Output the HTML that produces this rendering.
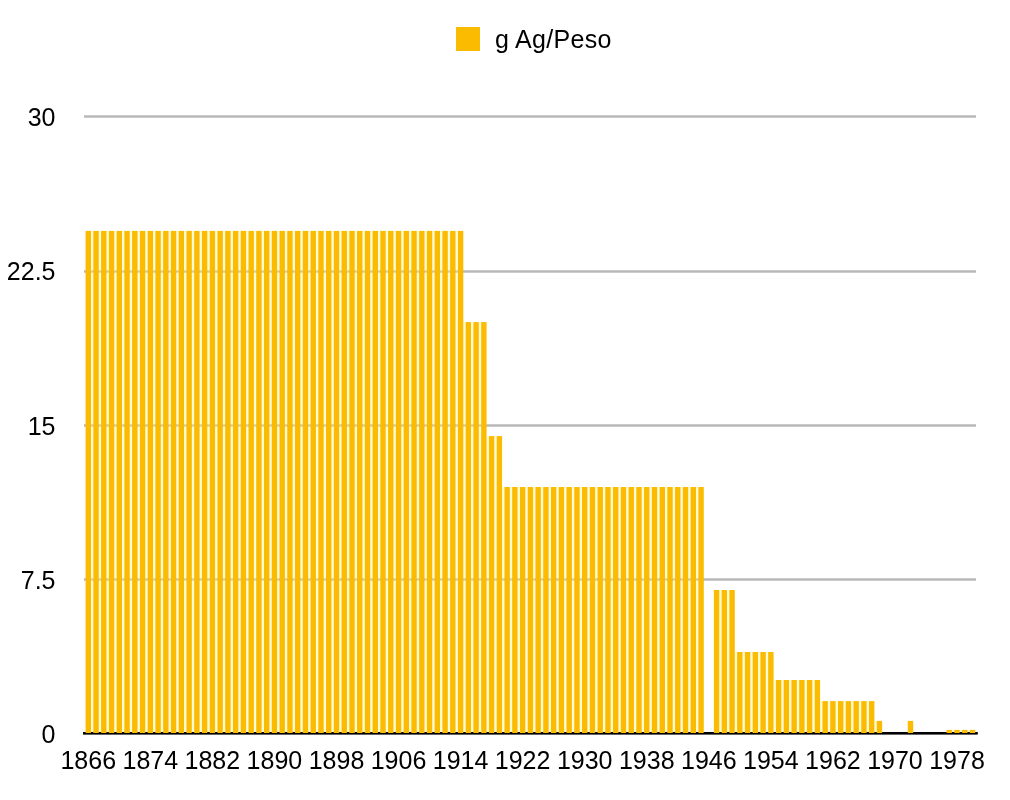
<!DOCTYPE html><html><head><meta charset="utf-8"><style>html,body{margin:0;padding:0;background:#fff;width:1010px;height:800px;overflow:hidden}svg{display:block;will-change:transform}text{font-family:"Liberation Sans",sans-serif;fill:#000}</style></head><body>
<svg width="1010" height="800" viewBox="0 0 1010 800">
<rect x="84.00" y="115.30" width="892.00" height="2.40" fill="#B6B6B6"/>
<rect x="84.00" y="270.30" width="892.00" height="2.40" fill="#B6B6B6"/>
<rect x="84.00" y="424.30" width="892.00" height="2.40" fill="#B6B6B6"/>
<rect x="84.00" y="578.30" width="892.00" height="2.40" fill="#B6B6B6"/>
<rect x="90.98" y="230.90" width="2.35" height="502.60" fill="rgba(255,248,150,0.4)"/>
<rect x="98.74" y="230.90" width="2.35" height="502.60" fill="rgba(255,248,150,0.4)"/>
<rect x="106.49" y="230.90" width="2.35" height="502.60" fill="rgba(255,248,150,0.4)"/>
<rect x="114.25" y="230.90" width="2.35" height="502.60" fill="rgba(255,248,150,0.4)"/>
<rect x="122.01" y="230.90" width="2.35" height="502.60" fill="rgba(255,248,150,0.4)"/>
<rect x="129.76" y="230.90" width="2.35" height="502.60" fill="rgba(255,248,150,0.4)"/>
<rect x="137.52" y="230.90" width="2.35" height="502.60" fill="rgba(255,248,150,0.4)"/>
<rect x="145.28" y="230.90" width="2.35" height="502.60" fill="rgba(255,248,150,0.4)"/>
<rect x="153.03" y="230.90" width="2.35" height="502.60" fill="rgba(255,248,150,0.4)"/>
<rect x="160.79" y="230.90" width="2.35" height="502.60" fill="rgba(255,248,150,0.4)"/>
<rect x="168.55" y="230.90" width="2.35" height="502.60" fill="rgba(255,248,150,0.4)"/>
<rect x="176.30" y="230.90" width="2.35" height="502.60" fill="rgba(255,248,150,0.4)"/>
<rect x="184.06" y="230.90" width="2.35" height="502.60" fill="rgba(255,248,150,0.4)"/>
<rect x="191.82" y="230.90" width="2.35" height="502.60" fill="rgba(255,248,150,0.4)"/>
<rect x="199.57" y="230.90" width="2.35" height="502.60" fill="rgba(255,248,150,0.4)"/>
<rect x="207.33" y="230.90" width="2.35" height="502.60" fill="rgba(255,248,150,0.4)"/>
<rect x="215.09" y="230.90" width="2.35" height="502.60" fill="rgba(255,248,150,0.4)"/>
<rect x="222.84" y="230.90" width="2.35" height="502.60" fill="rgba(255,248,150,0.4)"/>
<rect x="230.60" y="230.90" width="2.35" height="502.60" fill="rgba(255,248,150,0.4)"/>
<rect x="238.36" y="230.90" width="2.35" height="502.60" fill="rgba(255,248,150,0.4)"/>
<rect x="246.11" y="230.90" width="2.35" height="502.60" fill="rgba(255,248,150,0.4)"/>
<rect x="253.87" y="230.90" width="2.35" height="502.60" fill="rgba(255,248,150,0.4)"/>
<rect x="261.62" y="230.90" width="2.35" height="502.60" fill="rgba(255,248,150,0.4)"/>
<rect x="269.38" y="230.90" width="2.35" height="502.60" fill="rgba(255,248,150,0.4)"/>
<rect x="277.14" y="230.90" width="2.35" height="502.60" fill="rgba(255,248,150,0.4)"/>
<rect x="284.89" y="230.90" width="2.35" height="502.60" fill="rgba(255,248,150,0.4)"/>
<rect x="292.65" y="230.90" width="2.35" height="502.60" fill="rgba(255,248,150,0.4)"/>
<rect x="300.41" y="230.90" width="2.35" height="502.60" fill="rgba(255,248,150,0.4)"/>
<rect x="308.16" y="230.90" width="2.35" height="502.60" fill="rgba(255,248,150,0.4)"/>
<rect x="315.92" y="230.90" width="2.35" height="502.60" fill="rgba(255,248,150,0.4)"/>
<rect x="323.68" y="230.90" width="2.35" height="502.60" fill="rgba(255,248,150,0.4)"/>
<rect x="331.43" y="230.90" width="2.35" height="502.60" fill="rgba(255,248,150,0.4)"/>
<rect x="339.19" y="230.90" width="2.35" height="502.60" fill="rgba(255,248,150,0.4)"/>
<rect x="346.95" y="230.90" width="2.35" height="502.60" fill="rgba(255,248,150,0.4)"/>
<rect x="354.70" y="230.90" width="2.35" height="502.60" fill="rgba(255,248,150,0.4)"/>
<rect x="362.46" y="230.90" width="2.35" height="502.60" fill="rgba(255,248,150,0.4)"/>
<rect x="370.22" y="230.90" width="2.35" height="502.60" fill="rgba(255,248,150,0.4)"/>
<rect x="377.97" y="230.90" width="2.35" height="502.60" fill="rgba(255,248,150,0.4)"/>
<rect x="385.73" y="230.90" width="2.35" height="502.60" fill="rgba(255,248,150,0.4)"/>
<rect x="393.49" y="230.90" width="2.35" height="502.60" fill="rgba(255,248,150,0.4)"/>
<rect x="401.24" y="230.90" width="2.35" height="502.60" fill="rgba(255,248,150,0.4)"/>
<rect x="409.00" y="230.90" width="2.35" height="502.60" fill="rgba(255,248,150,0.4)"/>
<rect x="416.76" y="230.90" width="2.35" height="502.60" fill="rgba(255,248,150,0.4)"/>
<rect x="424.51" y="230.90" width="2.35" height="502.60" fill="rgba(255,248,150,0.4)"/>
<rect x="432.27" y="230.90" width="2.35" height="502.60" fill="rgba(255,248,150,0.4)"/>
<rect x="440.02" y="230.90" width="2.35" height="502.60" fill="rgba(255,248,150,0.4)"/>
<rect x="447.78" y="230.90" width="2.35" height="502.60" fill="rgba(255,248,150,0.4)"/>
<rect x="455.54" y="230.90" width="2.35" height="502.60" fill="rgba(255,248,150,0.4)"/>
<rect x="463.29" y="322.10" width="2.35" height="411.40" fill="rgba(255,248,150,0.4)"/>
<rect x="471.05" y="322.10" width="2.35" height="411.40" fill="rgba(255,248,150,0.4)"/>
<rect x="478.81" y="322.10" width="2.35" height="411.40" fill="rgba(255,248,150,0.4)"/>
<rect x="486.56" y="436.10" width="2.35" height="297.40" fill="rgba(255,248,150,0.4)"/>
<rect x="494.32" y="436.10" width="2.35" height="297.40" fill="rgba(255,248,150,0.4)"/>
<rect x="502.08" y="487.00" width="2.35" height="246.50" fill="rgba(255,248,150,0.4)"/>
<rect x="509.83" y="487.00" width="2.35" height="246.50" fill="rgba(255,248,150,0.4)"/>
<rect x="517.59" y="487.00" width="2.35" height="246.50" fill="rgba(255,248,150,0.4)"/>
<rect x="525.35" y="487.00" width="2.35" height="246.50" fill="rgba(255,248,150,0.4)"/>
<rect x="533.10" y="487.00" width="2.35" height="246.50" fill="rgba(255,248,150,0.4)"/>
<rect x="540.86" y="487.00" width="2.35" height="246.50" fill="rgba(255,248,150,0.4)"/>
<rect x="548.62" y="487.00" width="2.35" height="246.50" fill="rgba(255,248,150,0.4)"/>
<rect x="556.37" y="487.00" width="2.35" height="246.50" fill="rgba(255,248,150,0.4)"/>
<rect x="564.13" y="487.00" width="2.35" height="246.50" fill="rgba(255,248,150,0.4)"/>
<rect x="571.89" y="487.00" width="2.35" height="246.50" fill="rgba(255,248,150,0.4)"/>
<rect x="579.64" y="487.00" width="2.35" height="246.50" fill="rgba(255,248,150,0.4)"/>
<rect x="587.40" y="487.00" width="2.35" height="246.50" fill="rgba(255,248,150,0.4)"/>
<rect x="595.16" y="487.00" width="2.35" height="246.50" fill="rgba(255,248,150,0.4)"/>
<rect x="602.91" y="487.00" width="2.35" height="246.50" fill="rgba(255,248,150,0.4)"/>
<rect x="610.67" y="487.00" width="2.35" height="246.50" fill="rgba(255,248,150,0.4)"/>
<rect x="618.42" y="487.00" width="2.35" height="246.50" fill="rgba(255,248,150,0.4)"/>
<rect x="626.18" y="487.00" width="2.35" height="246.50" fill="rgba(255,248,150,0.4)"/>
<rect x="633.94" y="487.00" width="2.35" height="246.50" fill="rgba(255,248,150,0.4)"/>
<rect x="641.69" y="487.00" width="2.35" height="246.50" fill="rgba(255,248,150,0.4)"/>
<rect x="649.45" y="487.00" width="2.35" height="246.50" fill="rgba(255,248,150,0.4)"/>
<rect x="657.21" y="487.00" width="2.35" height="246.50" fill="rgba(255,248,150,0.4)"/>
<rect x="664.96" y="487.00" width="2.35" height="246.50" fill="rgba(255,248,150,0.4)"/>
<rect x="672.72" y="487.00" width="2.35" height="246.50" fill="rgba(255,248,150,0.4)"/>
<rect x="680.48" y="487.00" width="2.35" height="246.50" fill="rgba(255,248,150,0.4)"/>
<rect x="688.23" y="487.00" width="2.35" height="246.50" fill="rgba(255,248,150,0.4)"/>
<rect x="695.99" y="487.00" width="2.35" height="246.50" fill="rgba(255,248,150,0.4)"/>
<rect x="719.26" y="590.00" width="2.35" height="143.50" fill="rgba(255,248,150,0.4)"/>
<rect x="727.02" y="590.00" width="2.35" height="143.50" fill="rgba(255,248,150,0.4)"/>
<rect x="734.77" y="652.00" width="2.35" height="81.50" fill="rgba(255,248,150,0.4)"/>
<rect x="742.53" y="652.00" width="2.35" height="81.50" fill="rgba(255,248,150,0.4)"/>
<rect x="750.29" y="652.00" width="2.35" height="81.50" fill="rgba(255,248,150,0.4)"/>
<rect x="758.04" y="652.00" width="2.35" height="81.50" fill="rgba(255,248,150,0.4)"/>
<rect x="765.80" y="652.00" width="2.35" height="81.50" fill="rgba(255,248,150,0.4)"/>
<rect x="773.56" y="680.00" width="2.35" height="53.50" fill="rgba(255,248,150,0.4)"/>
<rect x="781.31" y="680.00" width="2.35" height="53.50" fill="rgba(255,248,150,0.4)"/>
<rect x="789.07" y="680.00" width="2.35" height="53.50" fill="rgba(255,248,150,0.4)"/>
<rect x="796.82" y="680.00" width="2.35" height="53.50" fill="rgba(255,248,150,0.4)"/>
<rect x="804.58" y="680.00" width="2.35" height="53.50" fill="rgba(255,248,150,0.4)"/>
<rect x="812.34" y="680.00" width="2.35" height="53.50" fill="rgba(255,248,150,0.4)"/>
<rect x="820.09" y="701.10" width="2.35" height="32.40" fill="rgba(255,248,150,0.4)"/>
<rect x="827.85" y="701.10" width="2.35" height="32.40" fill="rgba(255,248,150,0.4)"/>
<rect x="835.61" y="701.10" width="2.35" height="32.40" fill="rgba(255,248,150,0.4)"/>
<rect x="843.36" y="701.10" width="2.35" height="32.40" fill="rgba(255,248,150,0.4)"/>
<rect x="851.12" y="701.10" width="2.35" height="32.40" fill="rgba(255,248,150,0.4)"/>
<rect x="858.88" y="701.10" width="2.35" height="32.40" fill="rgba(255,248,150,0.4)"/>
<rect x="866.63" y="701.10" width="2.35" height="32.40" fill="rgba(255,248,150,0.4)"/>
<rect x="874.39" y="720.90" width="2.35" height="12.60" fill="rgba(255,248,150,0.4)"/>
<rect x="951.96" y="729.90" width="2.35" height="3.60" fill="rgba(255,248,150,0.4)"/>
<rect x="959.71" y="729.90" width="2.35" height="3.60" fill="rgba(255,248,150,0.4)"/>
<rect x="967.47" y="729.90" width="2.35" height="3.60" fill="rgba(255,248,150,0.4)"/>
<rect x="83.00" y="732.00" width="894.80" height="2.60" fill="#000"/>
<rect x="85.58" y="230.90" width="5.41" height="502.10" fill="#FABB00"/>
<rect x="93.33" y="230.90" width="5.41" height="502.10" fill="#FABB00"/>
<rect x="101.09" y="230.90" width="5.41" height="502.10" fill="#FABB00"/>
<rect x="108.84" y="230.90" width="5.41" height="502.10" fill="#FABB00"/>
<rect x="116.60" y="230.90" width="5.41" height="502.10" fill="#FABB00"/>
<rect x="124.36" y="230.90" width="5.41" height="502.10" fill="#FABB00"/>
<rect x="132.11" y="230.90" width="5.41" height="502.10" fill="#FABB00"/>
<rect x="139.87" y="230.90" width="5.41" height="502.10" fill="#FABB00"/>
<rect x="147.63" y="230.90" width="5.41" height="502.10" fill="#FABB00"/>
<rect x="155.38" y="230.90" width="5.41" height="502.10" fill="#FABB00"/>
<rect x="163.14" y="230.90" width="5.41" height="502.10" fill="#FABB00"/>
<rect x="170.90" y="230.90" width="5.41" height="502.10" fill="#FABB00"/>
<rect x="178.65" y="230.90" width="5.41" height="502.10" fill="#FABB00"/>
<rect x="186.41" y="230.90" width="5.41" height="502.10" fill="#FABB00"/>
<rect x="194.17" y="230.90" width="5.41" height="502.10" fill="#FABB00"/>
<rect x="201.92" y="230.90" width="5.41" height="502.10" fill="#FABB00"/>
<rect x="209.68" y="230.90" width="5.41" height="502.10" fill="#FABB00"/>
<rect x="217.44" y="230.90" width="5.41" height="502.10" fill="#FABB00"/>
<rect x="225.19" y="230.90" width="5.41" height="502.10" fill="#FABB00"/>
<rect x="232.95" y="230.90" width="5.41" height="502.10" fill="#FABB00"/>
<rect x="240.71" y="230.90" width="5.41" height="502.10" fill="#FABB00"/>
<rect x="248.46" y="230.90" width="5.41" height="502.10" fill="#FABB00"/>
<rect x="256.22" y="230.90" width="5.41" height="502.10" fill="#FABB00"/>
<rect x="263.97" y="230.90" width="5.41" height="502.10" fill="#FABB00"/>
<rect x="271.73" y="230.90" width="5.41" height="502.10" fill="#FABB00"/>
<rect x="279.49" y="230.90" width="5.41" height="502.10" fill="#FABB00"/>
<rect x="287.24" y="230.90" width="5.41" height="502.10" fill="#FABB00"/>
<rect x="295.00" y="230.90" width="5.41" height="502.10" fill="#FABB00"/>
<rect x="302.76" y="230.90" width="5.41" height="502.10" fill="#FABB00"/>
<rect x="310.51" y="230.90" width="5.41" height="502.10" fill="#FABB00"/>
<rect x="318.27" y="230.90" width="5.41" height="502.10" fill="#FABB00"/>
<rect x="326.03" y="230.90" width="5.41" height="502.10" fill="#FABB00"/>
<rect x="333.78" y="230.90" width="5.41" height="502.10" fill="#FABB00"/>
<rect x="341.54" y="230.90" width="5.41" height="502.10" fill="#FABB00"/>
<rect x="349.30" y="230.90" width="5.41" height="502.10" fill="#FABB00"/>
<rect x="357.05" y="230.90" width="5.41" height="502.10" fill="#FABB00"/>
<rect x="364.81" y="230.90" width="5.41" height="502.10" fill="#FABB00"/>
<rect x="372.57" y="230.90" width="5.41" height="502.10" fill="#FABB00"/>
<rect x="380.32" y="230.90" width="5.41" height="502.10" fill="#FABB00"/>
<rect x="388.08" y="230.90" width="5.41" height="502.10" fill="#FABB00"/>
<rect x="395.84" y="230.90" width="5.41" height="502.10" fill="#FABB00"/>
<rect x="403.59" y="230.90" width="5.41" height="502.10" fill="#FABB00"/>
<rect x="411.35" y="230.90" width="5.41" height="502.10" fill="#FABB00"/>
<rect x="419.11" y="230.90" width="5.41" height="502.10" fill="#FABB00"/>
<rect x="426.86" y="230.90" width="5.41" height="502.10" fill="#FABB00"/>
<rect x="434.62" y="230.90" width="5.41" height="502.10" fill="#FABB00"/>
<rect x="442.37" y="230.90" width="5.41" height="502.10" fill="#FABB00"/>
<rect x="450.13" y="230.90" width="5.41" height="502.10" fill="#FABB00"/>
<rect x="457.89" y="230.90" width="5.41" height="502.10" fill="#FABB00"/>
<rect x="465.64" y="322.10" width="5.41" height="410.90" fill="#FABB00"/>
<rect x="473.40" y="322.10" width="5.41" height="410.90" fill="#FABB00"/>
<rect x="481.16" y="322.10" width="5.41" height="410.90" fill="#FABB00"/>
<rect x="488.91" y="436.10" width="5.41" height="296.90" fill="#FABB00"/>
<rect x="496.67" y="436.10" width="5.41" height="296.90" fill="#FABB00"/>
<rect x="504.43" y="487.00" width="5.41" height="246.00" fill="#FABB00"/>
<rect x="512.18" y="487.00" width="5.41" height="246.00" fill="#FABB00"/>
<rect x="519.94" y="487.00" width="5.41" height="246.00" fill="#FABB00"/>
<rect x="527.70" y="487.00" width="5.41" height="246.00" fill="#FABB00"/>
<rect x="535.45" y="487.00" width="5.41" height="246.00" fill="#FABB00"/>
<rect x="543.21" y="487.00" width="5.41" height="246.00" fill="#FABB00"/>
<rect x="550.97" y="487.00" width="5.41" height="246.00" fill="#FABB00"/>
<rect x="558.72" y="487.00" width="5.41" height="246.00" fill="#FABB00"/>
<rect x="566.48" y="487.00" width="5.41" height="246.00" fill="#FABB00"/>
<rect x="574.24" y="487.00" width="5.41" height="246.00" fill="#FABB00"/>
<rect x="581.99" y="487.00" width="5.41" height="246.00" fill="#FABB00"/>
<rect x="589.75" y="487.00" width="5.41" height="246.00" fill="#FABB00"/>
<rect x="597.51" y="487.00" width="5.41" height="246.00" fill="#FABB00"/>
<rect x="605.26" y="487.00" width="5.41" height="246.00" fill="#FABB00"/>
<rect x="613.02" y="487.00" width="5.41" height="246.00" fill="#FABB00"/>
<rect x="620.77" y="487.00" width="5.41" height="246.00" fill="#FABB00"/>
<rect x="628.53" y="487.00" width="5.41" height="246.00" fill="#FABB00"/>
<rect x="636.29" y="487.00" width="5.41" height="246.00" fill="#FABB00"/>
<rect x="644.04" y="487.00" width="5.41" height="246.00" fill="#FABB00"/>
<rect x="651.80" y="487.00" width="5.41" height="246.00" fill="#FABB00"/>
<rect x="659.56" y="487.00" width="5.41" height="246.00" fill="#FABB00"/>
<rect x="667.31" y="487.00" width="5.41" height="246.00" fill="#FABB00"/>
<rect x="675.07" y="487.00" width="5.41" height="246.00" fill="#FABB00"/>
<rect x="682.83" y="487.00" width="5.41" height="246.00" fill="#FABB00"/>
<rect x="690.58" y="487.00" width="5.41" height="246.00" fill="#FABB00"/>
<rect x="698.34" y="487.00" width="5.41" height="246.00" fill="#FABB00"/>
<rect x="713.85" y="590.00" width="5.41" height="143.00" fill="#FABB00"/>
<rect x="721.61" y="590.00" width="5.41" height="143.00" fill="#FABB00"/>
<rect x="729.37" y="590.00" width="5.41" height="143.00" fill="#FABB00"/>
<rect x="737.12" y="652.00" width="5.41" height="81.00" fill="#FABB00"/>
<rect x="744.88" y="652.00" width="5.41" height="81.00" fill="#FABB00"/>
<rect x="752.64" y="652.00" width="5.41" height="81.00" fill="#FABB00"/>
<rect x="760.39" y="652.00" width="5.41" height="81.00" fill="#FABB00"/>
<rect x="768.15" y="652.00" width="5.41" height="81.00" fill="#FABB00"/>
<rect x="775.91" y="680.00" width="5.41" height="53.00" fill="#FABB00"/>
<rect x="783.66" y="680.00" width="5.41" height="53.00" fill="#FABB00"/>
<rect x="791.42" y="680.00" width="5.41" height="53.00" fill="#FABB00"/>
<rect x="799.17" y="680.00" width="5.41" height="53.00" fill="#FABB00"/>
<rect x="806.93" y="680.00" width="5.41" height="53.00" fill="#FABB00"/>
<rect x="814.69" y="680.00" width="5.41" height="53.00" fill="#FABB00"/>
<rect x="822.44" y="701.10" width="5.41" height="31.90" fill="#FABB00"/>
<rect x="830.20" y="701.10" width="5.41" height="31.90" fill="#FABB00"/>
<rect x="837.96" y="701.10" width="5.41" height="31.90" fill="#FABB00"/>
<rect x="845.71" y="701.10" width="5.41" height="31.90" fill="#FABB00"/>
<rect x="853.47" y="701.10" width="5.41" height="31.90" fill="#FABB00"/>
<rect x="861.23" y="701.10" width="5.41" height="31.90" fill="#FABB00"/>
<rect x="868.98" y="701.10" width="5.41" height="31.90" fill="#FABB00"/>
<rect x="876.74" y="720.90" width="5.41" height="12.10" fill="#FABB00"/>
<rect x="907.77" y="720.90" width="5.41" height="12.10" fill="#FABB00"/>
<rect x="946.55" y="729.90" width="5.41" height="3.10" fill="#FABB00"/>
<rect x="954.31" y="729.90" width="5.41" height="3.10" fill="#FABB00"/>
<rect x="962.06" y="729.90" width="5.41" height="3.10" fill="#FABB00"/>
<rect x="969.82" y="729.90" width="5.41" height="3.10" fill="#FABB00"/>
<text x="55.5" y="742.90" font-size="25" text-anchor="end">0</text>
<text x="55.5" y="588.80" font-size="25" text-anchor="end">7.5</text>
<text x="55.5" y="434.50" font-size="25" text-anchor="end">15</text>
<text x="55.5" y="280.00" font-size="25" text-anchor="end">22.5</text>
<text x="55.5" y="126.00" font-size="25" text-anchor="end">30</text>
<text x="88.28" y="769" font-size="25" text-anchor="middle">1866</text>
<text x="150.33" y="769" font-size="25" text-anchor="middle">1874</text>
<text x="212.38" y="769" font-size="25" text-anchor="middle">1882</text>
<text x="274.43" y="769" font-size="25" text-anchor="middle">1890</text>
<text x="336.49" y="769" font-size="25" text-anchor="middle">1898</text>
<text x="398.54" y="769" font-size="25" text-anchor="middle">1906</text>
<text x="460.59" y="769" font-size="25" text-anchor="middle">1914</text>
<text x="522.64" y="769" font-size="25" text-anchor="middle">1922</text>
<text x="584.70" y="769" font-size="25" text-anchor="middle">1930</text>
<text x="646.75" y="769" font-size="25" text-anchor="middle">1938</text>
<text x="708.80" y="769" font-size="25" text-anchor="middle">1946</text>
<text x="770.85" y="769" font-size="25" text-anchor="middle">1954</text>
<text x="832.90" y="769" font-size="25" text-anchor="middle">1962</text>
<text x="894.96" y="769" font-size="25" text-anchor="middle">1970</text>
<text x="957.01" y="769" font-size="25" text-anchor="middle">1978</text>
<rect x="456" y="27" width="24" height="24" fill="#FABB00"/>
<text x="495.0" y="48" font-size="25" letter-spacing="0.3">g Ag/Peso</text>
</svg></body></html>
